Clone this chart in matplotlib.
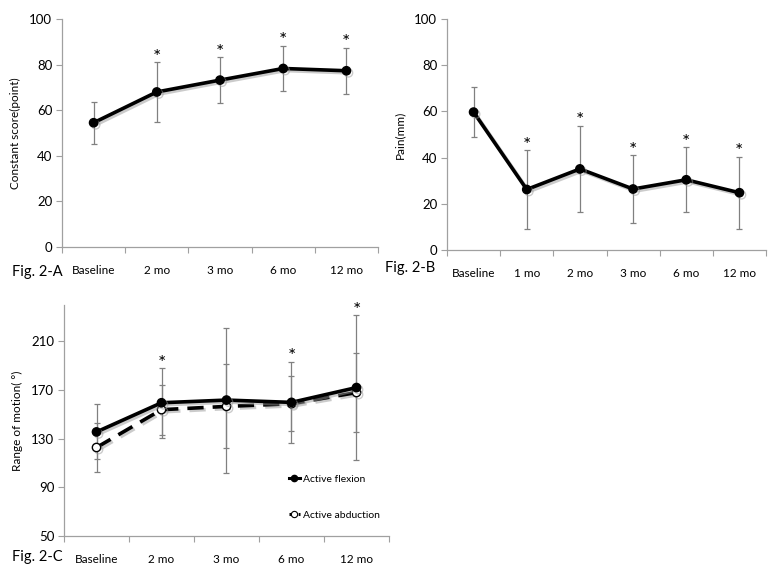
import matplotlib
matplotlib.use("Agg")
import matplotlib.pyplot as plt
import matplotlib.patheffects as pe
from matplotlib.lines import Line2D
import numpy as np

plt.rcParams['font.family'] = ['Lato', 'DejaVu Sans']

# Panel A
cats_a = ["Baseline", "2 mo", "3 mo", "6 mo", "12 mo"]
mean_a = [54.5, 68.0, 73.2, 78.3, 77.3]
sd_a = [9.2, 13.0, 10.0, 10.0, 10.0]
sig_a = [False, True, True, True, True]

# Panel B
cats_b = ["Baseline", "1 mo", "2 mo", "3 mo", "6 mo", "12 mo"]
mean_b = [59.7, 26.2, 35.1, 26.4, 30.4, 24.8]
sd_b = [10.8, 17.0, 18.6, 14.6, 14.1, 15.6]
sig_b = [False, True, True, True, True, True]

# Panel C
cats_c = ["Baseline", "2 mo", "3 mo", "6 mo", "12 mo"]
flex_mean = [135.6, 159.6, 161.8, 159.9, 172.1]
flex_sd = [22.6, 28.6, 59.6, 33.5, 59.5]
abd_mean = [122.8, 153.9, 156.6, 158.8, 168.0]
abd_sd = [19.8, 20.7, 34.5, 22.6, 32.5]
sig_c = [False, True, False, True, True]

W, H = 777, 583
fig = plt.figure(figsize=(W / 100, H / 100), dpi=100)

SPINE = "#a0a0a0"
ERR = "#808080"
shadow = [pe.SimpleLineShadow(offset=(1.5, -1.5), shadow_color="#999999", alpha=0.5), pe.Normal()]
MS = 6


def mk_ax(x0, x1, ytop, ybot):
    return fig.add_axes([x0 / W, 1 - ybot / H, (x1 - x0) / W, (ybot - ytop) / H])


def style(ax, cats, ylim, yticks, ylabel):
    n = len(cats)
    ax.set_xlim(-0.5, n - 0.5)
    ax.set_ylim(*ylim)
    ax.set_yticks(yticks)
    ax.set_yticklabels([str(t) for t in yticks], fontsize=9.5)
    ax.set_xticks(np.arange(n + 1) - 0.5)
    ax.set_xticklabels([])
    ax.set_xticks(np.arange(n), minor=True)
    ax.set_xticklabels(cats, minor=True, fontsize=8.5)
    ax.tick_params(axis='x', which='minor', length=0, pad=13)
    ax.tick_params(axis='x', which='major', length=4, color=SPINE, direction='out')
    ax.tick_params(axis='y', length=4, color=SPINE, direction='out', pad=3)
    for s in ['top', 'right']:
        ax.spines[s].set_visible(False)
    for s in ['left', 'bottom']:
        ax.spines[s].set_color(SPINE)
        ax.spines[s].set_linewidth(0.9)
    ax.set_ylabel(ylabel, fontsize=8.5)


def star(ax, x, y):
    ax.text(x, y, "*", ha='center', va='bottom', fontsize=14)


# ---- A ----
axA = mk_ax(62, 378, 19, 247)
xa = np.arange(len(cats_a))
axA.errorbar(xa, mean_a, yerr=sd_a, fmt='none', ecolor=ERR, elinewidth=0.9, capsize=2.5, capthick=0.9, zorder=2)
axA.plot(xa, mean_a, color='black', lw=2.6, marker='o', ms=MS, zorder=3, path_effects=shadow)
for i, s in enumerate(sig_a):
    if s:
        star(axA, xa[i], mean_a[i] + sd_a[i] - 1.5)
style(axA, cats_a, (0, 100), [0, 20, 40, 60, 80, 100], "Constant score(point)")
axA.yaxis.set_label_coords(-0.13, 0.5)

# ---- B ----
axB = mk_ax(447, 766, 19, 250)
xb = np.arange(len(cats_b))
axB.errorbar(xb, mean_b, yerr=sd_b, fmt='none', ecolor=ERR, elinewidth=0.9, capsize=2.5, capthick=0.9, zorder=2)
axB.plot(xb, mean_b, color='black', lw=2.6, marker='o', ms=MS, zorder=3, path_effects=shadow)
for i, s in enumerate(sig_b):
    if s:
        star(axB, xb[i], mean_b[i] + sd_b[i] - 1.5)
style(axB, cats_b, (0, 100), [0, 20, 40, 60, 80, 100], "Pain(mm)")
axB.yaxis.set_label_coords(-0.13, 0.5)

# ---- C ----
axC = mk_ax(64, 389, 305, 536)
xc = np.arange(len(cats_c))
axC.errorbar(xc, flex_mean, yerr=flex_sd, fmt='none', ecolor=ERR, elinewidth=0.9, capsize=2.5, capthick=0.9, zorder=2)
axC.errorbar(xc, abd_mean, yerr=abd_sd, fmt='none', ecolor=ERR, elinewidth=0.9, capsize=2.5, capthick=0.9, zorder=2)
axC.plot(xc, abd_mean, color='black', lw=2.6, ls=(0, (4.5, 2.5)), marker='o', ms=MS,
         mfc='white', mec='black', mew=1.0, zorder=3, path_effects=shadow)
axC.plot(xc, flex_mean, color='black', lw=2.6, marker='o', ms=MS, zorder=4, path_effects=shadow)
for i, s in enumerate(sig_c):
    if s:
        top = max(flex_mean[i] + flex_sd[i], abd_mean[i] + abd_sd[i])
        star(axC, xc[i], top - 3)
style(axC, cats_c, (50, 240), [50, 90, 130, 170, 210], "Range of motion( °)")
axC.yaxis.set_label_coords(-0.125, 0.5)

h1 = Line2D([], [], color='black', lw=2.2, marker='o', ms=4.5)
h2 = Line2D([], [], color='black', lw=2.2, ls=(0, (2, 1)), marker='o', ms=4.5, mfc='white', mec='black', mew=0.8)
leg = axC.legend([h1, h2], ["Active flexion", "Active abduction"], loc='upper left',
                 bbox_to_anchor=(0.675, 0.29), frameon=False, fontsize=7.5, handlelength=1.1,
                 handletextpad=0.3, labelspacing=2.6, borderpad=0.0, markerfirst=True)

# Figure labels
fig.text(12 / W, 1 - 272 / H, "Fig. 2-A", fontsize=10.5, va='center', ha='left')
fig.text(385 / W, 1 - 268 / H, "Fig. 2-B", fontsize=10.5, va='center', ha='left')
fig.text(12 / W, 1 - 557 / H, "Fig. 2-C", fontsize=10.5, va='center', ha='left')

fig.savefig("out.png", dpi=100)
